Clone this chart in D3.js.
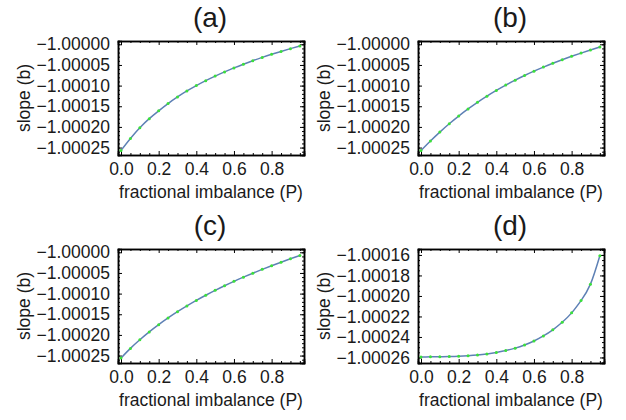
<!DOCTYPE html>
<html>
<head>
<meta charset="utf-8">
<script src="https://cdn.jsdelivr.net/npm/d3@7"></script>
<style>
  body { margin: 0; background: #fff; }
  svg { display: block; font-family: Arial, "Liberation Sans", sans-serif; }
</style>
</head>
<body>
<svg id="chart" width="626" height="420"></svg>
<script>
// fractional imbalance P (x values, same for every panel)
var pVals = [0, 0.05, 0.1, 0.15, 0.2, 0.25, 0.3, 0.35, 0.4, 0.45, 0.5, 0.55, 0.6, 0.65, 0.7, 0.75, 0.8, 0.85, 0.9, 0.95];

// slope (b)
var slopeA = [-1.000257, -1.000228, -1.000202, -1.000180, -1.000161, -1.0001435, -1.0001275, -1.000113, -1.000100, -1.000088,
              -1.000077, -1.0000668, -1.0000572, -1.0000482, -1.0000397, -1.0000317, -1.0000242, -1.0000172, -1.0000105, -1.0000041];
var slopeB = [-1.000257, -1.000234, -1.0002125, -1.0001924, -1.0001738, -1.0001565, -1.0001405, -1.0001256, -1.0001117, -1.0000988,
              -1.0000868, -1.0000755, -1.000065, -1.0000552, -1.000046, -1.0000373, -1.0000291, -1.0000213, -1.0000138, -1.0000066];
var slopeC = [-1.000256, -1.0002326, -1.0002117, -1.0001927, -1.0001752, -1.0001589, -1.0001438, -1.0001297, -1.0001164, -1.0001039,
              -1.0000921, -1.0000809, -1.0000703, -1.0000602, -1.0000506, -1.0000413, -1.0000324, -1.0000239, -1.0000157, -1.0000078];
var slopeD = [-1.0002595, -1.0002594, -1.0002593, -1.0002591, -1.0002588, -1.0002583, -1.0002576, -1.0002566, -1.0002552, -1.0002533,
              -1.0002509, -1.0002478, -1.0002439, -1.000239, -1.000233, -1.0002257, -1.0002165, -1.0002045, -1.0001885, -1.0001607];

var titles = ["(a)", "(b)", "(c)", "(d)"];
var xTicks = [0, 0.2, 0.4, 0.6, 0.8];
var yTicksABC = [-1.00025, -1.00020, -1.00015, -1.00010, -1.00005, -1.00000];
var yTicksD = [-1.00026, -1.00024, -1.00022, -1.00020, -1.00018, -1.00016];

var svg = d3.select("#chart");

var panelW = 186, panelH = 114;
var panels = [
  {left: 118, top: 41, data: slopeA, ticks: yTicksABC, ydom: [-1.000268, -0.999992], minor: 0.00001},
  {left: 418, top: 41, data: slopeB, ticks: yTicksABC, ydom: [-1.000268, -0.999992], minor: 0.00001},
  {left: 118, top: 249, data: slopeC, ticks: yTicksABC, ydom: [-1.000268, -0.999992], minor: 0.00001},
  {left: 418, top: 249, data: slopeD, ticks: yTicksD, ydom: [-1.0002654, -1.0001542], minor: 0.000005}
];

function fmt(v) {
  // Mathematica style minus sign
  return "\u2212" + Math.abs(v).toFixed(5);
}

function range(a, b, step) {
  var out = [];
  var n = Math.round((b - a) / step);
  for (var i = 0; i <= n; i++) out.push(a + i * step);
  return out;
}

panels.forEach(function(p, k) {
  var g = svg.append("g").attr("transform", "translate(" + p.left + "," + p.top + ")");

  var x = d3.scaleLinear().domain([-0.016, 0.972]).range([0, panelW]);
  var y = d3.scaleLinear().domain(p.ydom).range([panelH, 0]);

  var xMinor = range(0, 0.95, 0.05).filter(function(d) { return xTicks.indexOf(Math.round(d * 100) / 100) < 0; });
  var yMinor = range(p.ticks[0] - p.minor * 2, p.ticks[p.ticks.length - 1] + p.minor, p.minor)
    .filter(function(d) { return d > p.ydom[0] && d < p.ydom[1]; });

  // axes: labels on bottom and left, ticks pointing inward on all sides
  var bottom = d3.axisBottom(x).tickValues(xTicks).tickSize(-4).tickPadding(8).tickFormat(d3.format(".1f"));
  var left = d3.axisLeft(y).tickValues(p.ticks).tickSize(-4).tickPadding(8).tickFormat(fmt);
  var top = d3.axisTop(x).tickValues(xTicks).tickSize(-4).tickFormat("");
  var right = d3.axisRight(y).tickValues(p.ticks).tickSize(-4).tickFormat("");

  g.append("g").attr("class", "axis").attr("transform", "translate(0," + panelH + ")").call(bottom);
  g.append("g").attr("class", "axis").call(left);
  g.append("g").attr("class", "axis").call(top);
  g.append("g").attr("class", "axis").attr("transform", "translate(" + panelW + ",0)").call(right);

  // minor ticks
  g.append("g").attr("class", "axis").attr("transform", "translate(0," + panelH + ")")
    .call(d3.axisBottom(x).tickValues(xMinor).tickSize(-2).tickFormat(""));
  g.append("g").attr("class", "axis")
    .call(d3.axisTop(x).tickValues(xMinor).tickSize(-2).tickFormat(""));
  g.append("g").attr("class", "axis")
    .call(d3.axisLeft(y).tickValues(yMinor).tickSize(-2).tickFormat(""));
  g.append("g").attr("class", "axis").attr("transform", "translate(" + panelW + ",0)")
    .call(d3.axisRight(y).tickValues(yMinor).tickSize(-2).tickFormat(""));

  g.selectAll(".axis .domain").attr("stroke", "#000").attr("stroke-width", 1.5);
  g.selectAll(".axis line").attr("stroke", "#000").attr("stroke-width", 1);
  g.selectAll(".axis text").attr("fill", "#1a1a1a").style("font-size", "17.5px")
    .style("font-family", "Arial, 'Liberation Sans', sans-serif");

  var pts = pVals.map(function(v, i) { return {p: v, b: p.data[i]}; });

  var line = d3.line()
    .x(function(d) { return x(d.p); })
    .y(function(d) { return y(d.b); })
    .curve(d3.curveNatural);

  g.append("path")
    .datum(pts)
    .attr("fill", "none")
    .attr("stroke", "#5E81B5")
    .attr("stroke-width", 1.5)
    .attr("d", line);

  g.selectAll(".pt")
    .data(pts)
    .enter().append("circle")
    .attr("class", "pt")
    .attr("cx", function(d) { return x(d.p); })
    .attr("cy", function(d) { return y(d.b); })
    .attr("r", 1.5)
    .attr("fill", "#3be03b");

  // titles and axis labels
  g.append("text")
    .attr("x", panelW / 2 - 1)
    .attr("y", -14)
    .attr("text-anchor", "middle")
    .attr("fill", "#1a1a1a")
    .style("font-size", "28px")
    .text(titles[k]);

  g.append("text")
    .attr("x", panelW / 2)
    .attr("y", panelH + 43)
    .attr("text-anchor", "middle")
    .attr("fill", "#1a1a1a")
    .style("font-size", "17.5px")
    .text("fractional imbalance (P)");

  g.append("text")
    .attr("transform", "translate(" + (-88) + "," + (panelH / 2) + ")rotate(-90)")
    .attr("text-anchor", "middle")
    .attr("fill", "#1a1a1a")
    .style("font-size", "17.5px")
    .text("slope (b)");
});
</script>
</body>
</html>
